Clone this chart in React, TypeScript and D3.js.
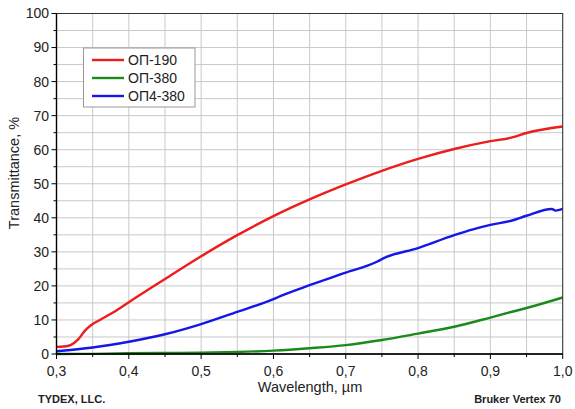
import * as d3 from 'd3';
import React from 'react';

// wavelength (µm) and transmittance (%)
const op190X = [0.3, 0.31, 0.32, 0.33, 0.34, 0.35, 0.36, 0.38, 0.4, 0.45, 0.5, 0.55, 0.6, 0.65, 0.7, 0.75, 0.8, 0.85, 0.9, 0.93, 0.95, 1.0];
const op190Y = [2.1, 2.2, 2.7, 4.3, 7.0, 8.8, 10.0, 12.4, 15.2, 22.0, 28.7, 34.9, 40.5, 45.4, 49.8, 53.8, 57.3, 60.2, 62.5, 63.6, 64.9, 66.8];

const op380X = [0.3, 0.35, 0.4, 0.45, 0.5, 0.55, 0.6, 0.65, 0.7, 0.75, 0.8, 0.85, 0.9, 0.93, 0.95, 1.0];
const op380Y = [0.0, 0.05, 0.2, 0.3, 0.4, 0.6, 1.0, 1.7, 2.6, 4.1, 6.0, 8.0, 10.7, 12.4, 13.5, 16.6];

const op4X = [0.3, 0.35, 0.4, 0.45, 0.5, 0.55, 0.6, 0.612, 0.65, 0.7, 0.743, 0.752, 0.8, 0.85, 0.876, 0.9, 0.93, 0.95, 0.985, 0.99, 1.0];
const op4Y = [0.8, 1.9, 3.6, 5.8, 8.8, 12.4, 16.1, 17.2, 20.2, 23.9, 27.1, 28.1, 31.1, 34.9, 36.6, 37.9, 39.2, 40.6, 42.6, 42.1, 42.6];

const seriesNames = ['ОП-190', 'ОП-380', 'ОП4-380'];
const seriesColors = ['#ee1c1c', '#1a8a1a', '#1616e6'];

const xMajor = [0.3, 0.4, 0.5, 0.6, 0.7, 0.8, 0.9, 1.0];
const yMajor = [0, 10, 20, 30, 40, 50, 60, 70, 80, 90, 100];

const W = 575;
const H = 409;
const left = 56.5;
const right = 562.7;
const top = 13.5;
const bottom = 354;

const font = '"Liberation Sans", Arial, sans-serif';

export default function App() {
  const x = d3.scaleLinear().domain([0.3, 1.0]).range([left, right]);
  const y = d3.scaleLinear().domain([0, 100]).range([bottom, top]);

  const xMinor = d3.range(0.3, 1.0001, 0.05);
  const yMinor = d3.range(0, 100.001, 5);

  const line = d3
    .line<[number, number]>()
    .x(d => x(d[0]))
    .y(d => y(d[1]))
    .curve(d3.curveMonotoneX);

  const series = [
    d3.zip(op190X, op190Y),
    d3.zip(op380X, op380Y),
    d3.zip(op4X, op4Y),
  ] as [number, number][][];

  const fmt = (v: number) => v.toFixed(1).replace('.', ',');

  return (
    <svg width={W} height={H} style={{position: 'absolute', left: 0, top: 0}} fontFamily={font}>
      <rect width={W} height={H} fill="#fff" />

      {/* grid */}
      <g stroke="#c9c9c9" strokeWidth={1}>
        {xMinor.map((v, i) => (
          <line key={'gx' + i} x1={x(v)} x2={x(v)} y1={top} y2={bottom} />
        ))}
        {yMinor.map((v, i) => (
          <line key={'gy' + i} x1={left} x2={right} y1={y(v)} y2={y(v)} />
        ))}
      </g>

      {/* series */}
      {series.map((s, i) => (
        <path key={i} d={line(s) || ''} fill="none" stroke={seriesColors[i]} strokeWidth={2.4} strokeLinejoin="round" />
      ))}

      {/* frame */}
      <rect x={left} y={top} width={right - left} height={bottom - top} fill="none" stroke="#333" strokeWidth={1} />
      <line x1={left} x2={left} y1={top} y2={bottom + 0.5} stroke="#000" strokeWidth={1.4} />
      <line x1={left} x2={right} y1={bottom} y2={bottom} stroke="#000" strokeWidth={1.4} />

      {/* ticks */}
      <g stroke="#000" strokeWidth={1}>
        {yMinor.map((v, i) => (
          <line key={'ty' + i} x1={left} x2={left - (v % 10 === 0 ? 5 : 3)} y1={y(v)} y2={y(v)} />
        ))}
        {xMinor.map((v, i) => (
          <line
            key={'tx' + i}
            x1={x(v)}
            x2={x(v)}
            y1={bottom}
            y2={bottom + (Math.round(v * 100) % 10 === 0 ? 5 : 3)}
          />
        ))}
      </g>
      {yMajor.map(v => (
        <text key={'ly' + v} x={left - 7.5} y={y(v)} dy="0.35em" textAnchor="end" fontSize={14} fill="#222">
          {v}
        </text>
      ))}
      {xMajor.map(v => (
        <text key={'lx' + v} x={x(v)} y={376} textAnchor="middle" fontSize={14} fill="#222">
          {fmt(v)}
        </text>
      ))}

      {/* axis titles */}
      <text x={310} y={392} textAnchor="middle" fontSize={14.5} fill="#222">
        Wavelength, µm
      </text>
      <text
        transform={`translate(19, 173) rotate(-90)`}
        textAnchor="middle"
        fontSize={14.5}
        fill="#222"
      >
        Transmittance, %
      </text>

      {/* legend */}
      <rect x={83.5} y={48} width={111.5} height={59} fill="#fff" stroke="#999" strokeWidth={1} />
      {seriesNames.map((n, i) => (
        <g key={n} transform={`translate(0, ${60 + i * 18})`}>
          <line x1={92} x2={124} y1={0} y2={0} stroke={seriesColors[i]} strokeWidth={2.4} />
          <text x={128} y={0} dy="0.35em" fontSize={14} fill="#222">
            {n}
          </text>
        </g>
      ))}

      {/* footer */}
      <text x={38} y={403} fontSize={11} fontWeight="bold" fill="#222">
        TYDEX, LLC.
      </text>
      <text x={561} y={403} textAnchor="end" fontSize={11} fontWeight="bold" fill="#222">
        Bruker Vertex 70
      </text>
    </svg>
  );
}
